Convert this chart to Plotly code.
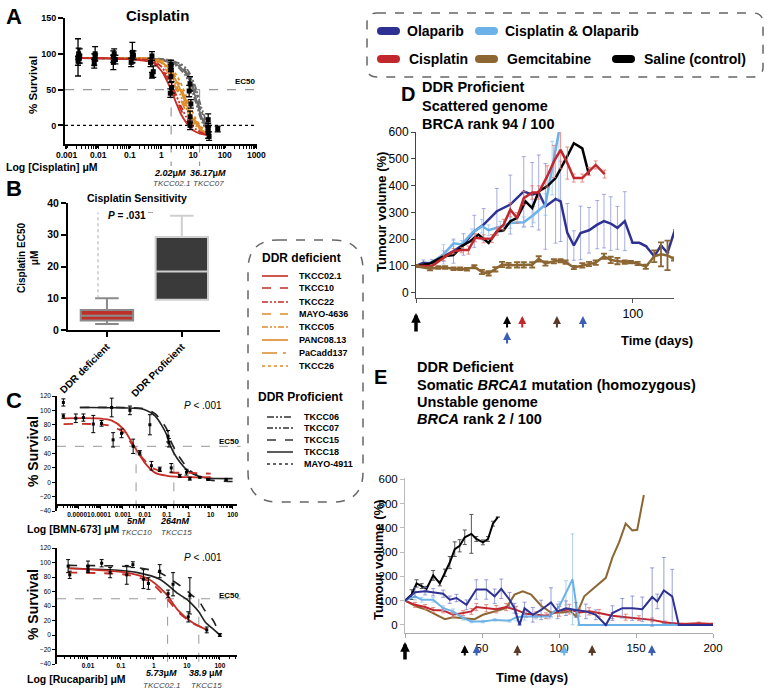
import plotly.graph_objects as go

W, H = 767, 691
FONT = "Liberation Sans, Arial, Helvetica, sans-serif"

# ===================== DATA =====================
# ---- Panel A : cisplatin dose response (uM) ----
a_conc = [0.0023, 0.5, 1, 1.5, 2, 3, 4, 6, 8, 12, 18, 35]
a_names = ["TKCC06", "TKCC18", "TKCC15", "MAYO-4911", "TKCC07",
           "TKCC26", "PaCadd137", "PANC08.13", "TKCC05", "MAYO-4636",
           "TKCC22", "TKCC10", "TKCC02.1"]
a_curves = [
    [94, 93, 91, 89, 87, 83, 78, 68, 56, 33, 8, -18],
    [94, 93, 92, 90, 88, 85, 81, 72, 61, 39, 13, -16],
    [94, 93, 92, 91, 89, 86, 83, 75, 65, 44, 17, -14],
    [94, 93, 92, 91, 90, 87, 84, 77, 68, 48, 21, -12],
    [94, 93, 93, 92, 91, 88, 86, 80, 72, 53, 26, -10],
    [94, 93, 91, 86, 81, 70, 60, 41, 27, 10, -2, -11],
    [94, 93, 90, 84, 78, 65, 54, 35, 21, 6, -4, -12],
    [94, 92, 88, 82, 75, 61, 49, 30, 17, 3, -6, -12],
    [94, 92, 87, 79, 71, 55, 42, 24, 12, 0, -7, -13],
    [94, 91, 85, 76, 67, 50, 37, 19, 9, -2, -8, -13],
    [94, 90, 82, 70, 60, 41, 28, 12, 3, -5, -10, -14],
    [94, 89, 79, 66, 55, 36, 23, 8, 0, -7, -11, -14],
    [94, 88, 76, 62, 50, 30, 17, 4, -3, -9, -12, -14],
]
a_pts_x = [0.0023, 0.0023, 0.0024, 0.0025, 0.0026, 0.0075, 0.0075, 0.008, 0.008,
           0.03, 0.03, 0.032, 0.035, 0.12, 0.11, 0.12, 0.13, 0.5, 0.45, 0.55, 0.5,
           2, 2, 2.1, 1.9, 2, 8, 7.5, 8.5, 8, 8, 30, 30, 30, 32, 60]
a_pts_y = [95, 90, 100, 93, 97, 92, 86, 100, 95, 96, 88, 100, 92, 102, 88, 95, 98,
           97, 88, 75, 70, 85, 68, 53, 45, 80, 58, 48, 30, 12, 0, 8, -3, -10, -15, -5]
a_pts_err = [26, 6, 8, 6, 10, 8, 6, 10, 5, 8, 10, 7, 6, 14, 6, 8, 6, 6, 6, 8, 4,
             6, 8, 8, 6, 5, 10, 8, 6, 8, 6, 8, 6, 8, 6, 4]
a_xticks = [0.001, 0.01, 0.1, 1, 10, 100, 1000]
a_xticklabels = ["0.001", "0.01", "0.1", "1", "10", "100", "1000"]
a_ec50_lines = [2.02, 16.0]

# ---- Panel B : EC50 box plot ----
b_groups = ["DDR deficient", "DDR Proficient"]
b_q1 = [3.0, 9.5]
b_median = [4.5, 18.4]
b_q3 = [6.3, 29.3]
b_low = [1.9, 9.5]
b_high = [10.0, 36.0]

# ---- Panel C top : BMN-673 ----
c1_red_x = [2e-6, 1e-4, 3e-4, 1e-3, 3e-3, 1e-2, 3e-2, 0.1, 1, 10]
c1_red_solid = [89, 88.5, 86, 75, 52, 27, 13, 9, 7, 7]
c1_red_dash = [81, 80.5, 78, 70, 50, 30, 18, 14, 13, 12]
c1_blk_x = [1.1e-5, 1e-3, 1e-2, 3e-2, 0.1, 0.14, 0.3, 1, 3, 10, 100]
c1_blk_solid = [104, 103.5, 101, 92, 66, 52, 33, 15, 8, 5.5, 5]
c1_blk_dash = [104, 104, 102, 95, 74, 60, 40, 18, 8, 3, 1]
c1_pts_x = [1.95e-6, 1.95e-6, 7.2e-6, 1.6e-5, 4.5e-5, 1.07e-4, 3.1e-4, 3.6e-4, 8.7e-4,
            2.1e-3, 2.95e-3, 5.9e-3, 1.7e-2, 2.0e-2, 4.8e-2, 0.115, 0.125, 0.16,
            0.39, 0.79, 1.12, 3.2, 7.6, 51]
c1_pts_y = [111, 92, 89, 90, 81, 82, 104, 59, 68, 100, 50, 41, 80, 23, 18, 64, 55,
            20, 9, 14, 5, 7, 4, 4]
c1_pts_err = [5, 3, 6, 5, 12, 4, 13, 10, 6, 6, 10, 3, 14, 6, 3, 8, 6, 6, 2, 4, 2, 1, 1, 1]
c1_xticks = [1e-5, 1e-4, 1e-3, 1e-2, 0.1, 1, 10, 100]
c1_xticklabels = ["0.00001", "0.0001", "0.001", "0.01", "0.1", "1", "10", "100"]
c1_ec50_lines = [0.004, 0.21]

# ---- Panel C bottom : Rucaparib ----
c2_blk_x = [0.0025, 0.1, 0.32, 1.5, 5.4, 10, 14, 23, 36, 63, 100]
c2_blk_dash = [96, 95, 93, 86, 70, 61, 55, 47, 33, 20, 0]
c2_blk_solid = [92, 89, 86, 77, 57, 49, 43, 32, 18, 8, 0]
c2_red_x = [0.0025, 0.15, 0.7, 2.3, 5.4, 14, 40]
c2_red_solid = [92, 86, 77, 57, 34, 18, 7]
c2_red_dash = [86, 83, 74, 52, 32, 17, 8]
c2_pts_x = [0.0025, 0.0028, 0.01, 0.01, 0.026, 0.047, 0.15, 0.23, 0.48, 0.68, 1.5,
            2.7, 3.8, 11, 12.3, 40, 100]
c2_pts_y = [95, 83, 95, 90, 99, 86, 83, 97, 77, 71, 88, 57, 70, 25, 54, 7, 0]
c2_pts_err = [9, 5, 7, 4, 5, 7, 13, 4, 13, 8, 9, 5, 16, 7, 25, 4, 2]
c2_xticks = [0.01, 0.1, 1, 10, 100]
c2_xticklabels = ["0.01", "0.1", "1", "10", "100"]
c2_ec50_lines = [2.6, 23.0]

# ---- Panel D : DDR proficient xenograft (days, tumour volume %) ----
d_gem_days = [0, 6.5, 10.3, 13.4, 17.3, 20.4, 23.5, 26.9, 30.4, 33.5, 36.6, 39.7, 42.7,
              46.6, 49.7, 53.6, 56.6, 59.7, 63.6, 66.7, 69, 72.8, 76.7, 79.8, 82.9, 86.7,
              89.8, 92.9, 96.3, 99.1, 102.2, 106, 109.9, 113, 116, 119]
d_gem_vals = [99, 89, 94, 94, 89, 89, 87, 97, 77, 72, 87, 105, 102, 104, 104, 104, 126,
              109, 117, 119, 114, 94, 102, 107, 112, 136, 122, 118, 114, 114, 109, 97,
              136, 143, 139, 126]
d_gem_err = [4, 6, 5, 5, 5, 5, 5, 6, 8, 8, 8, 10, 9, 10, 10, 10, 10, 8, 8, 6, 6, 6, 8,
             8, 8, 10, 12, 12, 6, 5, 6, 8, 22, 45, 55, 6]
d_sal_days = [0, 6.5, 12.7, 17.3, 21.1, 25, 28.8, 33.5, 37.3, 40.4, 43.5, 46.6, 50.5,
              53.6, 56.6, 60.5, 64.4, 67.4, 69.8, 72.8, 76.7, 79.8]
d_sal_vals = [100, 109, 136, 140, 174, 192, 217, 186, 229, 233, 267, 279, 341, 316, 378,
              397, 428, 477, 510, 558, 539, 440]
d_cis_days = [0, 7.3, 12.7, 17.3, 21.1, 24.2, 27.3, 31.2, 35, 37.3, 40.4, 43.5, 46.6,
              49.7, 53.6, 56.6, 60.5, 63.6, 66.7, 69.8, 72.8, 76.7, 79.8, 82.9, 87]
d_cis_vals = [100, 99, 130, 155, 159, 159, 205, 201, 202, 229, 254, 310, 279, 353, 374,
              374, 434, 490, 533, 484, 428, 428, 453, 477, 443]
d_cis_err = [0, 5, 10, 10, 10, 15, 15, 15, 15, 15, 20, 25, 20, 25, 25, 25, 40, 60, 70,
             60, 15, 15, 15, 15, 15]
d_co_days = [0, 6.5, 12.7, 17.3, 21.1, 25.8, 30.4, 33.5, 38.9, 43.5, 49.7, 54.3, 59.7,
             62.8, 65.9]
d_co_vals = [100, 109, 143, 184, 180, 223, 248, 233, 246, 260, 263, 291, 329, 465, 600]
d_co_err = [0, 8, 36, 10, 15, 15, 25, 20, 20, 20, 20, 30, 40, 100, 250]
d_ola_days = [0, 3.4, 7.3, 12.7, 17.3, 21.9, 26.9, 31.2, 37.3, 43.5, 49.7, 53.6, 56.6,
              59.7, 64.4, 66.7, 69.8, 72.8, 75.9, 79.8, 83.6, 86.7, 89.8, 92.9, 96.3,
              99.9, 103, 106, 109.9, 113, 116, 119.5]
d_ola_vals = [100, 112, 109, 136, 155, 180, 229, 254, 304, 329, 378, 366, 374, 322, 350,
              341, 223, 176, 223, 233, 254, 267, 258, 242, 267, 186, 186, 174, 136, 176,
              149, 236]
d_ola_err = [0, 10, 15, 20, 45, 40, 60, 60, 85, 110, 130, 120, 140, 160, 165, 150, 110,
             55, 100, 85, 90, 100, 100, 80, 110, 0, 0, 0, 0, 0, 0, 0]
d_arrow_days = [42, 49, 65, 77]
d_arrow_days_row2 = [42]

# ---- Panel E : DDR deficient xenograft ----
e_sal_days = [0, 4.3, 7.5, 10.8, 14, 18.3, 22.6, 25.9, 29.1, 32.3, 35.5, 38.8, 43.1,
              46.3, 50.6, 53.9, 57.1, 60.3]
e_sal_vals = [100, 125, 171, 160, 149, 204, 171, 215, 257, 312, 326, 361, 375, 354, 340,
              354, 417, 444]
e_sal_err = [0, 20, 15, 10, 10, 20, 10, 15, 25, 30, 25, 30, 80, 10, 10, 10, 10, 0]
e_gem_days = [0, 7.5, 14, 20.5, 25.9, 31.2, 37.7, 45.2, 50.6, 59.2, 65.7, 71.1, 76.5,
              81.9, 88.4, 94.8, 102.4, 107.7, 110.9, 116.4, 123.9, 130.4, 134.7, 139,
              143.3, 147.6, 150.8, 155.1]
e_gem_vals = [100, 76, 62, 42, 24, 32, 28, 24, 42, 56, 69, 125, 139, 125, 79, 51, 51, 56,
              35, 118, 160, 194, 278, 340, 417, 389, 392, 535]
e_co_days = [0, 6.5, 10.8, 18.3, 24.8, 31.2, 37.7, 43.1, 50.6, 58.2, 67.9, 72.2, 77.6,
             85.1, 93.7, 100.2, 104.5, 108.8, 113.1, 200]
e_co_vals = [100, 118, 104, 104, 69, 56, 28, 14, 14, 21, 17, 32, 35, 35, 35, 76, 132, 188,
             0, 0]
e_co_err = [0, 15, 10, 10, 10, 10, 8, 5, 5, 5, 5, 15, 15, 10, 10, 20, 50, 187, 0, 0]
e_ola_days = [0, 6.5, 13, 18.3, 24.8, 29.1, 33.4, 39.9, 46.3, 52.8, 58.2, 62.5, 67.9,
              71.1, 74.4, 77.6, 83, 88.4, 94.8, 99.1, 104.5, 110.9, 117.4, 123.9, 130.4,
              134.7, 141.1, 147.6, 154.1, 160.5, 163.8, 168.1, 173.5, 177.8, 200]
e_ola_vals = [100, 135, 139, 135, 129, 104, 111, 83, 146, 146, 118, 149, 104, 69, 0, 69,
              42, 62, 93, 56, 69, 62, 56, 42, 0, 49, 69, 69, 65, 115, 97, 142, 118, 0, 0]
e_ola_err = [0, 20, 15, 15, 15, 15, 15, 20, 40, 40, 30, 40, 30, 20, 0, 25, 30, 40, 60,
             30, 30, 30, 30, 20, 0, 30, 40, 50, 50, 120, 30, 136, 111, 0, 0]
e_cis_days = [0, 6.5, 13, 18.3, 24.8, 31.2, 37.7, 43.1, 46.3, 52.8, 59.2, 65.7, 72.2,
              78.7, 85.1, 91.6, 100.2, 106.7, 113.1, 119.6, 126, 134.7, 143.3, 151.9,
              160.5, 169.1, 179.9, 190.7, 200]
e_cis_vals = [100, 83, 74, 62, 60, 42, 49, 56, 74, 69, 65, 74, 62, 46, 42, 38, 56, 65,
              51, 56, 49, 38, 32, 28, 21, 10, 4, 7, 4]
e_cis_err = [0, 10, 10, 10, 10, 10, 10, 12, 15, 15, 15, 15, 15, 15, 12, 12, 20, 20, 15,
             15, 15, 12, 12, 10, 8, 6, 4, 5, 4]
e_arrow_days = [38.8, 46.5, 73, 103.4, 121.5, 160.3]

# legend texts
mid_def_names = ["TKCC02.1", "TKCC10", "TKCC22", "MAYO-4636", "TKCC05", "PANC08.13",
                 "PaCadd137", "TKCC26"]
mid_pro_names = ["TKCC06", "TKCC07", "TKCC15", "TKCC18", "MAYO-4911"]
treat_names = ["Olaparib", "Cisplatin & Olaparib", "Cisplatin", "Gemcitabine",
               "Saline (control)"]

# ===================== STYLES =====================
RED = "#c62d26"
ORANGE = "#dd8b2b"
GRAYC = "#6a6a6a"
DDG = "#333333"
OLA = "#2e3192"
CO = "#6cb2e8"
CIS = "#c1272d"
GEM = "#8c6633"
SAL = "#000000"
DDH = "6px,2px,2px,2px,2px,2px"
curve_style = {
    "TKCC02.1": (RED, "solid"), "TKCC10": (RED, "dash"), "TKCC22": (RED, DDH),
    "MAYO-4636": (ORANGE, "dash"), "TKCC05": (ORANGE, DDH), "PANC08.13": (ORANGE, "solid"),
    "PaCadd137": (ORANGE, "longdashdot"), "TKCC26": (ORANGE, "dot"),
    "TKCC06": (GRAYC, "7px,2px,2px,2px,2px,2px"), "TKCC07": (GRAYC, DDH),
    "TKCC15": (GRAYC, "dash"), "TKCC18": (GRAYC, "solid"), "MAYO-4911": (GRAYC, "dot"),
}
legend_pro_style = {"TKCC06": "7px,2px,2px,2px,2px,2px", "TKCC07": DDH, "TKCC15": "dash",
                    "TKCC18": "solid", "MAYO-4911": "dot"}


def X(p):
    return p / W


def Y(p):
    return 1 - p / H


def xd(a, b):
    return [X(a), X(b)]


def yd(top, bottom):
    return [Y(bottom), Y(top)]


def ymap(v, dom, rng):
    return dom[0] + (v - rng[0]) / (rng[1] - rng[0]) * (dom[1] - dom[0])


fig = go.Figure()

# ---------- Panel A traces ----------
for name, vals in zip(a_names, a_curves):
    col, dash = curve_style[name]
    fig.add_trace(go.Scatter(x=a_conc, y=vals, mode="lines", line=dict(color=col, dash=dash,
                  width=1.8, shape="spline", smoothing=0.8), xaxis="x", yaxis="y", hoverinfo="skip"))
fig.add_trace(go.Scatter(x=a_pts_x, y=a_pts_y, mode="markers",
                         marker=dict(symbol="square", size=5, color="black"),
                         error_y=dict(type="data", array=a_pts_err, color="black", thickness=1.3, width=3),
                         xaxis="x", yaxis="y"))

# ---------- Panel B ----------
b_fill = ["#c0302a", "#3a3a3a"]
b_line = ["#8a8a8a", "#cfcfcf"]
for i, g in enumerate(b_groups):
    fig.add_trace(go.Box(x=[g], q1=[b_q1[i]], median=[b_median[i]], q3=[b_q3[i]],
                         lowerfence=[b_low[i]], upperfence=[b_high[i]],
                         fillcolor=b_fill[i], line=dict(color=b_line[i], width=2),
                         width=0.7, whiskerwidth=0.45, xaxis="x2", yaxis="y2",
                         boxpoints=False))

# ---------- Panel C top ----------
SPL = dict(shape="spline", smoothing=0.8)
fig.add_trace(go.Scatter(x=c1_blk_x, y=c1_blk_solid, mode="lines", line=dict(color="#222", width=1.6, **SPL), xaxis="x3", yaxis="y3"))
fig.add_trace(go.Scatter(x=c1_blk_x, y=c1_blk_dash, mode="lines", line=dict(color="#222", width=1.6, dash="dash", **SPL), xaxis="x3", yaxis="y3"))
fig.add_trace(go.Scatter(x=c1_red_x, y=c1_red_solid, mode="lines", line=dict(color=RED, width=1.8, **SPL), xaxis="x3", yaxis="y3"))
fig.add_trace(go.Scatter(x=c1_red_x, y=c1_red_dash, mode="lines", line=dict(color=RED, width=1.8, dash="dash", **SPL), xaxis="x3", yaxis="y3"))
fig.add_trace(go.Scatter(x=c1_pts_x, y=c1_pts_y, mode="markers", marker=dict(symbol="square", size=3, color="black"),
                         error_y=dict(type="data", array=c1_pts_err, color="black", thickness=1, width=2), xaxis="x3", yaxis="y3"))

# ---------- Panel C bottom ----------
fig.add_trace(go.Scatter(x=c2_blk_x, y=c2_blk_solid, mode="lines", line=dict(color="#222", width=1.6, **SPL), xaxis="x4", yaxis="y4"))
fig.add_trace(go.Scatter(x=c2_blk_x, y=c2_blk_dash, mode="lines", line=dict(color="#222", width=1.6, dash="dash", **SPL), xaxis="x4", yaxis="y4"))
fig.add_trace(go.Scatter(x=c2_red_x, y=c2_red_solid, mode="lines", line=dict(color=RED, width=1.8, **SPL), xaxis="x4", yaxis="y4"))
fig.add_trace(go.Scatter(x=c2_red_x, y=c2_red_dash, mode="lines", line=dict(color=RED, width=1.8, dash="dash", **SPL), xaxis="x4", yaxis="y4"))
fig.add_trace(go.Scatter(x=c2_pts_x, y=c2_pts_y, mode="markers", marker=dict(symbol="square", size=3, color="black"),
                         error_y=dict(type="data", array=c2_pts_err, color="black", thickness=1, width=2), xaxis="x4", yaxis="y4"))

# ---------- Panel D ----------
fig.add_trace(go.Scatter(x=d_ola_days, y=d_ola_vals, mode="lines", line=dict(color=OLA, width=2.5),
                         error_y=dict(type="data", array=d_ola_err, color="rgba(120,130,205,0.65)", thickness=1, width=2),
                         xaxis="x5", yaxis="y5"))
fig.add_trace(go.Scatter(x=d_co_days, y=d_co_vals, mode="lines", line=dict(color=CO, width=2.5),
                         error_y=dict(type="data", array=d_co_err, color="rgba(140,190,235,0.7)", thickness=1, width=2),
                         xaxis="x5", yaxis="y5"))
fig.add_trace(go.Scatter(x=d_sal_days, y=d_sal_vals, mode="lines", line=dict(color=SAL, width=2.5),
                         xaxis="x5", yaxis="y5"))
fig.add_trace(go.Scatter(x=d_cis_days, y=d_cis_vals, mode="lines", line=dict(color=CIS, width=2.5),
                         error_y=dict(type="data", array=d_cis_err, color="rgba(220,120,110,0.8)", thickness=1, width=2),
                         xaxis="x5", yaxis="y5"))
fig.add_trace(go.Scatter(x=d_gem_days, y=d_gem_vals, mode="lines", line=dict(color=GEM, width=2.5),
                         error_y=dict(type="data", array=d_gem_err, color=GEM, thickness=1.8, width=3),
                         xaxis="x5", yaxis="y5"))

# ---------- Panel E ----------
fig.add_trace(go.Scatter(x=e_sal_days, y=e_sal_vals, mode="lines", line=dict(color=SAL, width=2),
                         error_y=dict(type="data", array=e_sal_err, color="#555555", thickness=1, width=2),
                         xaxis="x6", yaxis="y6"))
fig.add_trace(go.Scatter(x=e_gem_days, y=e_gem_vals, mode="lines", line=dict(color=GEM, width=2),
                         xaxis="x6", yaxis="y6"))
fig.add_trace(go.Scatter(x=e_cis_days, y=e_cis_vals, mode="lines", line=dict(color=CIS, width=2),
                         error_y=dict(type="data", array=e_cis_err, color="rgba(220,120,110,0.85)", thickness=1, width=2),
                         xaxis="x6", yaxis="y6"))
fig.add_trace(go.Scatter(x=e_co_days, y=e_co_vals, mode="lines", line=dict(color=CO, width=2),
                         error_y=dict(type="data", array=e_co_err, color="rgba(150,195,235,0.75)", thickness=1, width=2),
                         xaxis="x6", yaxis="y6"))
fig.add_trace(go.Scatter(x=e_ola_days, y=e_ola_vals, mode="lines", line=dict(color=OLA, width=2),
                         error_y=dict(type="data", array=e_ola_err, color="rgba(110,120,200,0.7)", thickness=1, width=2),
                         xaxis="x6", yaxis="y6"))


# ===================== AXES =====================
def ax(**kw):
    base = dict(showgrid=False, zeroline=False, showline=True, linecolor="black", linewidth=1,
                ticks="outside", tickcolor="black", ticklen=4, tickwidth=1, automargin=False,
                tickfont=dict(family=FONT, size=10, color="black"))
    base.update(kw)
    return base


A_YDOM, A_YR = yd(18, 144), [-26, 150]
C1_YDOM, C1_YR = yd(396, 511), [-40, 120]
C2_YDOM, C2_YR = yd(548, 664), [-40, 120]
minor_log = dict(dtick="D1", ticks="outside", ticklen=2.5, tickwidth=1, tickcolor="black", showgrid=False)

layout_axes = dict(
    xaxis=ax(domain=xd(65, 257), type="log", range=[-3.05, 3.02], anchor="y", tickangle=0,
             tickvals=a_xticks, ticktext=a_xticklabels, linewidth=2, tickwidth=1.5, ticklen=2,
             tickfont=dict(family=FONT, size=8.5, color="black", weight="bold"), minor=minor_log),
    yaxis=ax(domain=A_YDOM, range=A_YR, anchor="x", tickvals=[0, 50, 100, 150], linewidth=2,
             tickwidth=1.5, ticklen=5, tickfont=dict(family=FONT, size=9, color="black", weight="bold")),
    xaxis2=ax(domain=xd(68, 220), type="category", categoryorder="array", categoryarray=b_groups,
              range=[-0.52, 1.51], anchor="y2", tickangle=-45, linewidth=2, tickwidth=1.5, ticklen=5,
              tickfont=dict(family=FONT, size=10, color="black", weight="bold")),
    yaxis2=ax(domain=yd(203, 330), range=[0, 40], dtick=10, anchor="x2", linewidth=2, tickwidth=1.5,
              ticklen=5, tickfont=dict(family=FONT, size=10.5, color="black", weight="bold")),
    xaxis3=ax(domain=xd(57, 237), type="log", range=[-6, 2.2], anchor="free", position=Y(505),
              tickangle=0, tickvals=c1_xticks, ticktext=c1_xticklabels, linewidth=1.5, ticklen=3,
              tickfont=dict(family=FONT, size=6.5, color="black", weight="bold"), minor=minor_log),
    yaxis3=ax(domain=C1_YDOM, range=C1_YR, dtick=20, anchor="x3", linewidth=1.5, ticklen=3,
              tickfont=dict(family=FONT, size=6.5, color="black")),
    xaxis4=ax(domain=xd(57, 237), type="log", range=[-2.94, 2.52], anchor="free", position=Y(656),
              tickangle=0, tickvals=c2_xticks, ticktext=c2_xticklabels, linewidth=1.5, ticklen=3,
              tickfont=dict(family=FONT, size=6.5, color="black", weight="bold"), minor=minor_log),
    yaxis4=ax(domain=C2_YDOM, range=C2_YR, dtick=20, anchor="x4", linewidth=1.5, ticklen=3,
              tickfont=dict(family=FONT, size=6.5, color="black")),
    xaxis5=ax(domain=xd(416, 674), range=[0, 119], anchor="y5", tickvals=[0, 100], ticktext=["", "100"],
              linecolor="#555", tickcolor="#555", tickfont=dict(family=FONT, size=12.5, color="black")),
    yaxis5=ax(domain=yd(132, 298), range=[-20, 600], dtick=100, anchor="x5", linecolor="#444",
              tickcolor="#444", tickfont=dict(family=FONT, size=12, color="black")),
    xaxis6=ax(domain=xd(405, 713), range=[0, 200], anchor="y6", tickvals=[0, 50, 100, 150, 200],
              ticktext=["", "50", "100", "150", "200"], linecolor="#aaa", tickcolor="#aaa",
              tickfont=dict(family=FONT, size=11.5, color="black")),
    yaxis6=ax(domain=yd(478, 633), range=[-33, 605], tickvals=[0, 100, 200, 300, 400, 500, 600],
              anchor="x6", linecolor="#bbb", tickcolor="#bbb",
              tickfont=dict(family=FONT, size=11.5, color="black")),
)

# ===================== SHAPES =====================
shapes = []


def rbox(x0, y0, x1, y1, r, **line):
    rx, ry = r / W, r / H
    a, b, c, d = X(x0), Y(y0), X(x1), Y(y1)
    p = (f"M{a+rx},{b} L{c-rx},{b} Q{c},{b} {c},{b-ry} L{c},{d+ry} Q{c},{d} {c-rx},{d} "
         f"L{a+rx},{d} Q{a},{d} {a},{d+ry} L{a},{b-ry} Q{a},{b} {a+rx},{b} Z")
    return dict(type="path", path=p, xref="paper", yref="paper", **line)


# dashed rounded legend boxes
shapes.append(rbox(248, 240, 363, 502, 30, line=dict(color="#666", width=1.5, dash="dash")))
shapes.append(rbox(367, 13, 763, 77, 10, line=dict(color="#666", width=1.5, dash="dash")))

# treatment pills
pill_pos = [(377, 31), (475, 31), (377, 59), (475, 59), (612, 59)]
pill_col = [OLA, CO, CIS, GEM, SAL]
for (px0, pyc), col in zip(pill_pos, pill_col):
    shapes.append(rbox(px0, pyc - 4, px0 + 23, pyc + 4, 4, fillcolor=col, line=dict(width=0)))

# mid legend lines
def_cols = [RED, RED, RED, ORANGE, ORANGE, ORANGE, ORANGE, ORANGE]
def_y = [276, 288, 302, 314, 327, 340, 353, 366]
for nm, yy, col in zip(mid_def_names, def_y, def_cols):
    shapes.append(dict(type="line", xref="paper", yref="paper", x0=X(262), x1=X(288), y0=Y(yy), y1=Y(yy),
                       line=dict(color=col, width=1.6, dash=curve_style[nm][1])))
pro_y = [417, 428, 440, 452, 464]
for nm, yy in zip(mid_pro_names, pro_y):
    shapes.append(dict(type="line", xref="paper", yref="paper", x0=X(267), x1=X(293), y0=Y(yy), y1=Y(yy),
                       line=dict(color=DDG, width=1.6, dash=legend_pro_style[nm])))

# Panel A reference lines
shapes.append(dict(type="line", xref="x domain", yref="y", x0=0, x1=1, y0=50, y1=50, layer="below",
                   line=dict(color="#999", width=1.2, dash="dash")))
shapes.append(dict(type="line", xref="x domain", yref="y", x0=0, x1=1, y0=0, y1=0, layer="below",
                   line=dict(color="black", width=1.2, dash="dot")))
for v in a_ec50_lines:
    shapes.append(dict(type="line", xref="x", yref="paper", x0=v, x1=v,
                       y0=ymap(50, A_YDOM, A_YR), y1=Y(166), layer="below",
                       line=dict(color="#999", width=1.2, dash="dash")))
# Panel C reference lines
for xr, dom, rng, lines, bottom in [("x3", C1_YDOM, C1_YR, c1_ec50_lines, 515),
                                    ("x4", C2_YDOM, C2_YR, c2_ec50_lines, 667)]:
    yr = "y" + xr[1:]
    shapes.append(dict(type="line", xref=xr + " domain", yref=yr, x0=0, x1=1.02, y0=50, y1=50, layer="below",
                       line=dict(color="#999", width=1, dash="dash")))
    for v in lines:
        shapes.append(dict(type="line", xref=xr, yref="paper", x0=v, x1=v,
                           y0=ymap(50, dom, rng), y1=Y(bottom), layer="below",
                           line=dict(color="#999", width=1, dash="dash")))
# Panel B p-value bracket
shapes.append(dict(type="line", xref="paper", yref="y2", x0=X(98), x1=X(98), y0=10, y1=37,
                   line=dict(color="#aaa", width=1, dash="dot")))
shapes.append(dict(type="line", xref="paper", yref="y2", x0=X(148), x1=X(153), y0=37, y1=37,
                   line=dict(color="#aaa", width=1)))

# ===================== ANNOTATIONS =====================
anns = []


def T(text, x, y, size, bold=False, color="black", xanchor="center", angle=0, italic=False):
    f = dict(family=FONT, size=size, color=color)
    if bold:
        f["weight"] = "bold"
    if italic:
        f["style"] = "italic"
    anns.append(dict(text=text, x=X(x), y=Y(y), xref="paper", yref="paper", showarrow=False,
                     font=f, xanchor=xanchor, yanchor="middle", textangle=angle))


# Panel A
T("A", 14, 17, 22, bold=True)
T("Cisplatin", 157, 15, 15, bold=True)
T("% Survival", 33, 85, 11.5, bold=True, angle=-90)
T("EC50", 258, 82, 8, bold=True, xanchor="right")
T("Log [Cisplatin] μM", 4, 167, 10.5, bold=True, xanchor="left")
T("<i>2.02</i>μ<i>M</i>", 170, 173, 9, bold=True)
T("TKCC02.1", 171, 184, 8, color="#444", italic=True)
T("<i>36.17</i>μ<i>M</i>", 208, 173, 9, bold=True)
T("TKCC07", 208, 184, 8, color="#444", italic=True)
# Panel B
T("B", 14, 188, 22, bold=True)
T("Cisplatin Sensitivity", 137, 198, 10.5, bold=True)
T("Cisplatin EC50<br>μM", 28, 258, 10, bold=True, angle=-90)
T("<i>P</i> = .031", 127, 215, 10, bold=True)
# Panel C
T("C", 14, 400, 22, bold=True)
T("% Survival", 33, 452, 14, bold=True, angle=-90)
T("% Survival", 33, 605, 14, bold=True, angle=-90)
T("<i>P</i> < .001", 203, 405, 10)
T("<i>P</i> < .001", 203, 557, 10)
T("EC50", 242, 442, 8, bold=True, xanchor="right")
T("EC50", 242, 595, 8, bold=True, xanchor="right")
T("Log [BMN-673] μM", 25, 529, 10.5, bold=True, xanchor="left")
T("<i>5nM</i>", 136, 521, 9, bold=True)
T("<i>264nM</i>", 175, 521, 9, bold=True)
T("TKCC10", 136, 532, 8, color="#444", italic=True)
T("TKCC15", 176, 532, 8, color="#444", italic=True)
T("Log [Rucaparib] μM", 25, 679, 10.5, bold=True, xanchor="left")
T("<i>5.73</i>μ<i>M</i>", 161, 673, 9, bold=True)
T("<i>38.9 </i>μ<i>M</i>", 206, 673, 9, bold=True)
T("TKCC02.1", 161, 685, 8, color="#444", italic=True)
T("TKCC15", 207, 685, 8, color="#444", italic=True)
# mid legend
T("DDR deficient", 301, 258, 12, bold=True)
for nm, yy in zip(mid_def_names, def_y):
    T(nm, 297, yy, 9, bold=True, xanchor="left")
T("DDR Proficient", 300, 397, 12, bold=True)
for nm, yy in zip(mid_pro_names, pro_y):
    T(nm, 302, yy, 9, bold=True, xanchor="left")
# top legend
treat_text_pos = [(405, 31), (503, 31), (407, 59), (505, 59), (642, 59)]
for nm, (tx, ty) in zip(treat_names, treat_text_pos):
    T(nm, tx, ty, 14, bold=True, xanchor="left")
# Panel D
T("D", 408, 94, 20, bold=True)
for txt, yy in zip(["DDR Proficient", "Scattered genome", "BRCA rank 94 / 100"], [87, 106, 124]):
    T(txt, 420, yy, 14.5, bold=True, xanchor="left")
T("Tumour volume (%)", 381, 212, 13, bold=True, angle=-90)
T("Time (days)", 657, 340, 13, bold=True)
# Panel E
T("E", 380, 377, 20, bold=True)
for txt, yy in zip(["DDR Deficient", "Somatic <i>BRCA1</i> mutation (homozygous)", "Unstable genome",
                    "<i>BRCA</i> rank 2 / 100"], [367, 385, 402, 419]):
    T(txt, 415, yy, 14.5, bold=True, xanchor="left")
T("Tumour volume (%)", 378, 560, 13, bold=True, angle=-90)
T("Time (days)", 532, 677, 13, bold=True)


def arrow(xv, xref, tip_y, length, color, width, size):
    anns.append(dict(x=xv, xref=xref, y=Y(tip_y), yref="paper", ax=0, ay=length, text="",
                     showarrow=True, arrowhead=2, arrowsize=size, arrowwidth=width, arrowcolor=color))


ARR_BROWN = "#5b3a29"
ARR_BLUE = "#3b5fb5"
arrow(0, "x5", 313, 20, "black", 3.5, 0.55)
for dday, col in zip(d_arrow_days, ["black", CIS, ARR_BROWN, ARR_BLUE]):
    arrow(dday, "x5", 316, 13, col, 2, 0.8)
for dday in d_arrow_days_row2:
    arrow(dday, "x5", 332, 13, ARR_BLUE, 2, 0.8)
arrow(0, "x6", 642, 19, "black", 3.5, 0.55)
for dday, col in zip(e_arrow_days, ["black", ARR_BLUE, ARR_BROWN, CO, ARR_BROWN, ARR_BLUE]):
    arrow(dday, "x6", 645, 12, col, 2, 0.8)

fig.update_layout(
    width=W, height=H, margin=dict(l=0, r=0, t=0, b=0),
    paper_bgcolor="white", plot_bgcolor="rgba(0,0,0,0)", showlegend=False,
    font=dict(family=FONT, color="black"),
    shapes=shapes, annotations=anns, **layout_axes,
)

fig.write_html("out.html", config={"displayModeBar": False},
               post_script="document.body.style.margin='0px';document.body.style.overflow='hidden';")
